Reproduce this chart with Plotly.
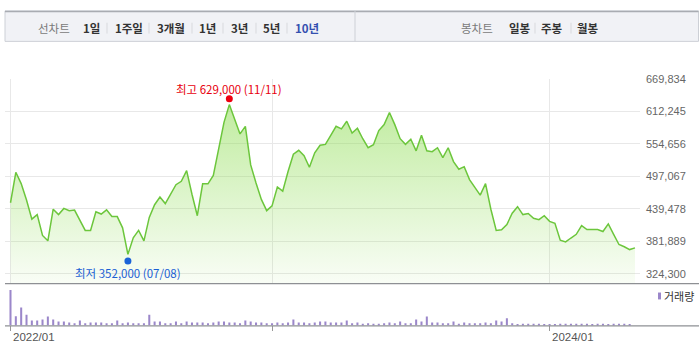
import plotly.graph_objects as go

W, H = 699, 352

# ---------------- data ----------------
prices = [450000, 504000, 484000, 455000, 421000, 429000, 392000, 382500, 438500, 429000,
          440000, 436000, 437000, 418500, 401000, 401000, 434000, 430000, 437500, 425500,
          425500, 405500, 358500, 388000, 401000, 382500, 424000, 446500, 460000, 448500,
          465000, 482000, 488000, 507000, 465000, 427000, 483500, 483500, 498500, 549000,
          592500, 624000, 598500, 572000, 585500, 517000, 485000, 456000, 436000, 444500,
          478000, 470500, 505500, 536000, 543000, 533500, 513000, 538500, 552000, 553500,
          569500, 585500, 581000, 594500, 573500, 582000, 563500, 547500, 553000, 578000,
          588500, 610000, 588500, 563500, 553500, 562500, 542000, 569500, 542000, 540500,
          547500, 530000, 547500, 523000, 509500, 514000, 491000, 477500, 463500, 484000,
          438500, 401000, 402000, 411500, 431500, 443000, 429000, 431000, 422500, 420000,
          427000, 417000, 413500, 383500, 380500, 387500, 394000, 409500, 402500, 402500,
          402500, 399000, 412500, 394000, 376000, 372000, 367000, 370000]

volumes = [10800, 2800, 5500, 3300, 1500, 1500, 1800, 2700, 1800, 1200,
           1200, 900, 700, 1500, 700, 900, 900, 900, 700, 700,
           1500, 700, 900, 700, 700, 700, 3300, 1200, 1200, 700,
           700, 1200, 700, 1200, 900, 900, 900, 700, 900, 1200,
           1200, 900, 900, 700, 1500, 1200, 900, 900, 700, 700,
           900, 700, 900, 1800, 900, 900, 700, 900, 1200, 1200,
           900, 900, 900, 1500,
           700, 900, 500, 700, 500, 500, 700, 900, 700, 1200,
           700, 700, 1800, 1200, 2700, 900, 900, 700, 700, 1200,
           500, 900, 700, 700, 700, 900, 700, 1500, 1200, 2200,
           700, 400, 500, 500, 500, 500, 400, 200, 400, 500,
           500, 500, 500, 500, 500, 400, 500, 500, 400, 500,
           500, 500, 400]

y_ticks = [324300, 381889, 439478, 497067, 554656, 612245, 669834]
x_tick_idx = [0, 49, 101]
x_tick_labels = ["2022/01", "", "2024/01"]

hi_idx, hi_val, hi_date = 41, 629000, "11/11"
lo_idx, lo_val, lo_date = 22, 352000, "07/08"

period_tabs = ["1일", "1주일", "3개월", "1년", "3년", "5년", "10년"]
candle_tabs = ["일봉", "주봉", "월봉"]

# ---------------- helpers ----------------
def px(x):
    return x / W

def py(y):
    return 1 - y / H

FONT = "Noto Sans CJK KR"
NUMFONT = "Liberation Sans"

xs = list(range(len(prices)))
xv = list(range(len(volumes)))

fig = go.Figure()

fig.add_trace(go.Scatter(
    x=xs, y=prices, mode="lines",
    line=dict(color="#6cc63c", width=1.5),
    fill="tozeroy",
    fillgradient=dict(type="vertical",
                      colorscale=[[0, "rgba(140,220,80,0.04)"], [1, "rgba(140,220,80,0.55)"]],
                      start=306500, stop=629000),
    hoverinfo="skip", showlegend=False,
    xaxis="x", yaxis="y",
))

fig.add_trace(go.Bar(
    x=xv, y=volumes, marker=dict(color="#9b87ca", line=dict(width=0)),
    width=0.38, showlegend=False, hoverinfo="skip",
    xaxis="x2", yaxis="y2",
))

x_dom = [px(5), px(640)]
x_range = [-1.03, 117.94]

fig.update_layout(
    width=W, height=H,
    margin=dict(l=0, r=0, t=0, b=0),
    paper_bgcolor="white", plot_bgcolor="rgba(0,0,0,0)",
    xaxis=dict(domain=x_dom, range=x_range, tickvals=x_tick_idx, showticklabels=False,
               showgrid=True, gridcolor="#e8e8e8", gridwidth=1, zeroline=False,
               showline=False, ticks="", anchor="y", fixedrange=True),
    yaxis=dict(domain=[py(282.5), py(74)], range=[306530, 669834], side="right",
               tickvals=y_ticks, ticktext=[f"{v:,}" for v in y_ticks],
               tickfont=dict(family=NUMFONT, size=11, color="#666"),
               ticklabelstandoff=5,
               showgrid=True, gridcolor="#e8e8e8", gridwidth=1, zeroline=False,
               showline=False, ticks="", anchor="x", fixedrange=True),
    xaxis2=dict(domain=x_dom, range=x_range, matches="x", tickvals=x_tick_idx,
                showticklabels=False, ticks="outside", ticklen=5, tickcolor="#999",
                showgrid=False, zeroline=False, showline=False, anchor="y2"),
    yaxis2=dict(domain=[py(325), py(289)], range=[0, max(volumes)], visible=False,
                anchor="x2", fixedrange=True),
)

shapes = []
# top tab bar
shapes.append(dict(type="rect", xref="paper", yref="paper", x0=px(5), x1=px(698.5),
                   y0=py(36), y1=py(5), fillcolor="#f1f2f6",
                   line=dict(color="#cdd0d6", width=1), layer="below"))
shapes.append(dict(type="line", xref="paper", yref="paper", x0=px(5), x1=px(698.5),
                   y0=py(5.5), y1=py(5.5), line=dict(color="#a9acb2", width=1.5)))
shapes.append(dict(type="line", xref="paper", yref="paper", x0=px(355), x1=px(355),
                   y0=py(36), y1=py(5), line=dict(color="#cdd0d6", width=1)))
for sx in [107, 149, 192, 223, 256, 287, 535, 571]:
    shapes.append(dict(type="line", xref="paper", yref="paper", x0=px(sx), x1=px(sx),
                       y0=py(28), y1=py(17), line=dict(color="#d8d9dd", width=1)))
# axis lines
shapes.append(dict(type="line", xref="paper", yref="paper", x0=px(5), x1=1,
                   y0=py(282.5), y1=py(282.5), line=dict(color="#8e9094", width=1.2)))
shapes.append(dict(type="line", xref="paper", yref="paper", x0=px(5), x1=1,
                   y0=py(325.5), y1=py(325.5), line=dict(color="#8e9094", width=1.2)))
# high / low dots
shapes.append(dict(type="circle", xref="x", yref="y", xsizemode="pixel", ysizemode="pixel",
                   xanchor=hi_idx, yanchor=hi_val, x0=-3.5, x1=3.5, y0=-0.5, y1=6.5,
                   fillcolor="#ee0010", line=dict(width=0)))
shapes.append(dict(type="circle", xref="x", yref="y", xsizemode="pixel", ysizemode="pixel",
                   xanchor=lo_idx, yanchor=lo_val, x0=-3.5, x1=3.5, y0=-6.5, y1=0.5,
                   fillcolor="#1b63d8", line=dict(width=0)))
# volume legend swatch
shapes.append(dict(type="rect", xref="paper", yref="paper", x0=px(658), x1=px(661),
                   y0=py(298.5), y1=py(291.5), fillcolor="#9b87ca", line=dict(width=0)))

annotations = []
# tabs
def tab(text, cx, color, bold):
    annotations.append(dict(text=f"<b>{text}</b>" if bold else text, x=px(cx), y=py(22),
                            xref="paper", yref="paper", xanchor="center", yanchor="middle",
                            showarrow=False,
                            font=dict(family=FONT, size=11.5, color=color)))

tab("선차트", 54, "#7a7a7a", False)
tab_centers = [91, 128.5, 171, 207.5, 239.5, 271.5, 307]
for i, (t, c) in enumerate(zip(period_tabs, tab_centers)):
    tab(t, c, "#3450b0" if i == len(period_tabs) - 1 else "#333", True)
tab("봉차트", 476.5, "#7a7a7a", False)
for t, c in zip(candle_tabs, [519.5, 552, 588]):
    tab(t, c, "#333", True)

# high / low labels
annotations.append(dict(text=f"최고 {hi_val:,} ({hi_date})", x=hi_idx, y=hi_val, xref="x", yref="y",
                        xanchor="center", yanchor="middle", yshift=12.5, showarrow=False,
                        font=dict(family=FONT, size=11.5, color="#e8000e")))
annotations.append(dict(text=f"최저 {lo_val:,} ({lo_date})", x=lo_idx, y=lo_val, xref="x", yref="y",
                        xanchor="center", yanchor="middle", yshift=-14.5, showarrow=False,
                        font=dict(family=FONT, size=11.5, color="#1b5fd4")))
# x labels
for xi, lab in zip(x_tick_idx, x_tick_labels):
    if lab:
        annotations.append(dict(text=lab, x=xi, y=py(337), xref="x2", yref="paper",
                                xanchor="left", yanchor="middle", xshift=0, showarrow=False,
                                font=dict(family=NUMFONT, size=11.5, color="#555")))
# volume legend text
annotations.append(dict(text="거래량", x=px(662), y=py(295), xref="paper", yref="paper",
                        xanchor="left", yanchor="middle", showarrow=False,
                        font=dict(family=FONT, size=11, color="#333")))

fig.update_layout(shapes=shapes, annotations=annotations)

fig.write_html("out.html", config={"displayModeBar": False})
